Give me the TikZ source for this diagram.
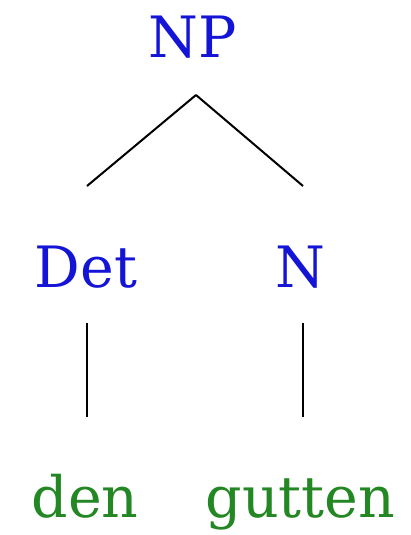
\documentclass[tikz,border=0pt]{standalone}
\usepackage{fontspec}
\setmainfont{DejaVu Serif}
\usetikzlibrary{calc}
\definecolor{catblue}{RGB}{20,20,215}
\definecolor{wordgreen}{RGB}{35,135,35}
\tikzset{
  lbl/.style={anchor=base, inner sep=0pt, font=\fontsize{57}{60}\selectfont},
  cat/.style={lbl, text=catblue},
  word/.style={lbl, text=wordgreen},
  edge/.style={draw=black, line width=2pt}
}
\begin{document}
\begin{tikzpicture}[x=1pt, y=-1pt]
\useasboundingbox (0,0) rectangle (410,535);
\node[cat] (NP) at (193,57) {NP};
\node[cat] (Det) at (86,287) {Det};
\node[cat] (N) at (300.5,287) {N};
\node[word] (den) at (85,517) {den};
\node[word] (gutten) at (300.5,517) {gutten};
\draw[edge] ($(NP.base)+(3,38)$) -- ($(Det.base)+(1,-101)$);
\draw[edge] ($(NP.base)+(3,38)$) -- ($(N.base)+(2.5,-101)$);
\draw[edge] ($(Det.base)+(1,36)$) -- ($(den.base)+(2,-100)$);
\draw[edge] ($(N.base)+(2.5,36)$) -- ($(gutten.base)+(2.5,-100)$);
\end{tikzpicture}
\end{document}
